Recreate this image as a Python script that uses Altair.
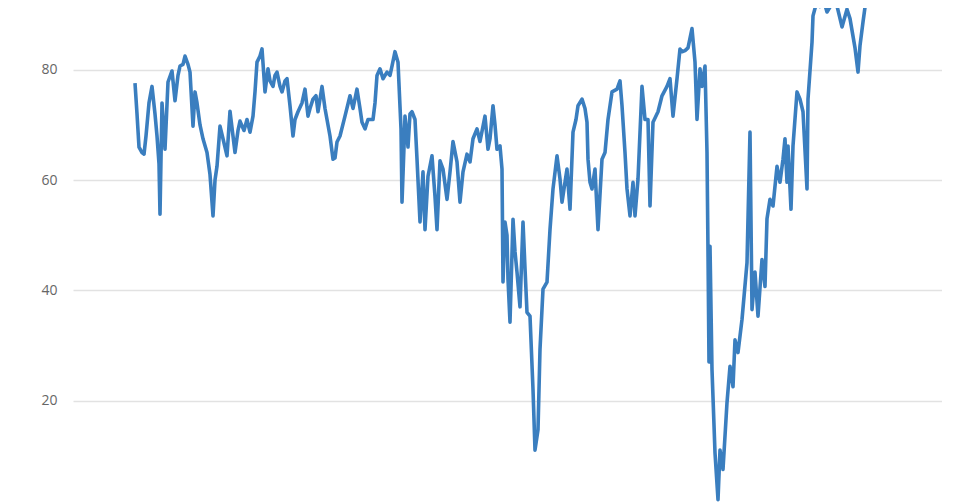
import altair as alt
import pandas as pd

periods = [0, 2, 4, 7, 9, 11, 14, 17, 20, 22, 24, 25, 27, 30, 33, 37, 40, 43, 45, 48, 50, 53,
           55, 58, 60, 62, 65, 68, 72, 75, 78, 80, 82, 85, 88, 92, 95, 98, 100, 103, 105, 109,
           112, 115, 118, 120, 122, 125, 127, 130, 133, 135, 138, 140, 142, 145, 147, 150, 152,
           155, 158, 160, 163, 167, 170, 173, 175, 178, 181, 183, 187, 190, 193, 195, 198, 200,
           202, 205, 210, 215, 218, 222, 225, 227, 230, 233, 238, 240, 242, 245, 248, 252, 255,
           257, 260, 263, 266, 267, 269, 270, 273, 275, 277, 280, 282, 285, 288, 290, 293, 297,
           300, 302, 305, 308, 312, 315, 318, 322, 325, 328, 332, 335, 338, 342, 345, 350, 353,
           355, 358, 360, 362, 365, 367, 368, 370, 372, 373, 375, 378, 380, 382, 385, 388, 390,
           392, 395, 398, 400, 403, 405, 408, 412, 415, 418, 422, 425, 427, 432, 435, 438, 441,
           443, 447, 450, 452, 453, 455, 457, 460, 463, 467, 470, 473, 477, 482, 485, 487, 490,
           492, 495, 498, 500, 503, 507, 510, 513, 515, 518, 523, 527, 532, 535, 538, 542, 545,
           547, 550, 553, 557, 560, 562, 565, 567, 570, 572, 573, 574, 575, 577, 580, 583, 585,
           588, 592, 595, 598, 600, 603, 607, 612, 615, 617, 620, 623, 627, 630, 632, 635, 638,
           642, 645, 648, 650, 652, 653, 656, 658, 662, 665, 668, 672, 673, 677, 678, 682, 685,
           689, 692, 697, 702, 707, 712, 715, 720, 723, 725, 728, 732, 735, 737]
values = [77.6, 72.0, 66.0, 65.0, 64.7, 68.0, 74.0, 77.0, 72.0, 68.0, 63.0, 53.8, 74.0, 65.6,
          77.8, 79.8, 74.4, 79.0, 80.7, 81.0, 82.5, 81.0, 79.6, 69.8, 76.0, 74.0, 70.0, 67.5,
          65.0, 61.0, 53.5, 60.0, 62.5, 69.8, 67.5, 64.4, 72.5, 68.0, 65.0, 69.0, 70.7, 69.0,
          71.0, 68.7, 71.6, 76.0, 81.4, 82.5, 83.8, 76.0, 80.2, 78.0, 77.0, 79.0, 79.6, 77.0,
          76.0, 78.0, 78.4, 73.5, 68.0, 71.0, 72.4, 74.0, 76.5, 71.6, 73.0, 74.7, 75.3, 72.4,
          77.0, 73.0, 70.0, 68.0, 63.8, 64.0, 66.9, 68.0, 71.6, 75.3, 73.0, 76.5, 73.0, 70.5,
          69.3, 71.0, 71.0, 74.0, 79.0, 80.2, 78.4, 79.6, 79.0, 80.7, 83.3, 81.4, 69.3, 56.0,
          66.0, 71.6, 66.0, 72.0, 72.4, 71.0, 63.8, 52.4, 61.5, 51.0, 60.7, 64.4, 57.0, 51.0,
          63.5, 62.0, 56.5, 61.5, 67.0, 63.3, 56.0, 61.5, 64.7, 63.3, 67.5, 69.3, 67.0, 71.6,
          65.6, 67.5, 73.5, 70.0, 65.6, 66.2, 62.0, 41.5, 52.4, 50.0, 42.0, 34.2, 52.9, 47.0,
          43.3, 37.0, 52.4, 44.0, 36.0, 35.3, 22.0, 11.0, 14.7, 29.3, 40.2, 41.5, 51.0, 58.4,
          64.4, 60.2, 56.0, 62.0, 54.7, 68.7, 71.0, 73.5, 74.7, 73.0, 70.5, 63.8, 59.6, 58.4,
          62.0, 51.0, 63.8, 65.0, 71.0, 76.0, 76.5, 78.0, 73.5, 65.0, 58.4, 53.5, 59.6, 53.5,
          60.2, 77.0, 71.0, 71.0, 55.3, 70.5, 72.4, 75.3, 77.0, 78.4, 71.6, 78.4, 83.8, 83.3,
          83.5, 84.0, 87.5, 81.4, 71.0, 80.2, 77.0, 80.7, 65.0, 47.0, 27.0, 48.0, 25.6, 10.5,
          2.0, 11.0, 7.5, 19.6, 26.2, 22.5, 31.0, 28.7, 34.7, 45.0, 68.7, 36.5, 43.3, 35.3,
          45.6, 40.7, 53.0, 56.5, 55.3, 62.5, 59.6, 63.8, 67.5, 59.6, 66.2, 54.7, 66.2, 76.0,
          74.7, 72.4, 58.4, 74.7, 85.0, 89.8, 92.5, 91.5, 92.4, 90.5, 92.0, 91.6, 87.8, 91.0,
          89.3, 84.0, 79.6, 84.4, 88.7, 94.0, 98.0]

y_ticks = [20, 40, 60, 80]

n = min(len(periods), len(values))
df = pd.DataFrame({"period": periods[:n], "value": values[:n]})

chart = alt.Chart(df).mark_line(
    color="#3a7ebf", strokeWidth=3.6, clip=True, strokeJoin="round"
).encode(
    x=alt.X("period:Q", scale=alt.Scale(domain=[-62, 807], nice=False, zero=False), axis=None),
    y=alt.Y(
        "value:Q",
        scale=alt.Scale(domain=[1.4, 91.23], nice=False, zero=False),
        axis=alt.Axis(
            values=y_ticks, title=None, domain=False, ticks=False, labelPadding=16,
            labelFontSize=14, labelColor="#666666", labelFont="Open Sans",
            gridColor="#e2e2e2", gridWidth=1.5,
        ),
    ),
).properties(
    width=869, height=495, autosize="none",
    padding={"left": 65, "top": 0, "right": 0, "bottom": 0},
).configure_view(stroke=None)

chart.save("out.html", embed_options={"renderer": "svg", "actions": False})
